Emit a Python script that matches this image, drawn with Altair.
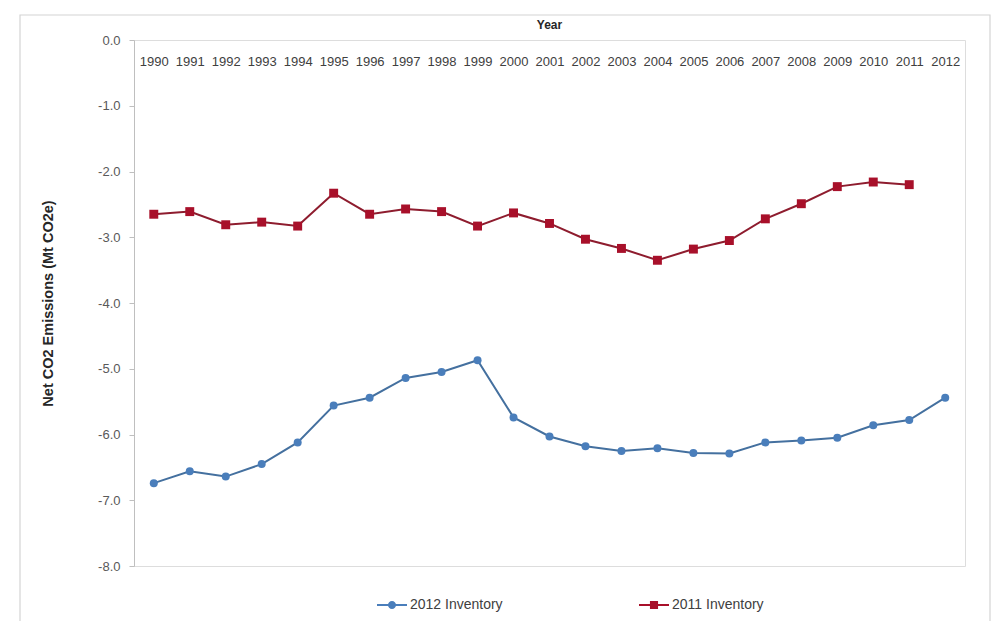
import altair as alt
import pandas as pd

years = [str(y) for y in range(1990, 2013)]
inv_2012 = [-6.74, -6.56, -6.64, -6.45, -6.12, -5.56, -5.44, -5.14, -5.05, -4.87,
            -5.74, -6.03, -6.18, -6.25, -6.21, -6.28, -6.29, -6.12, -6.09, -6.05,
            -5.86, -5.78, -5.44]
inv_2011 = [-2.65, -2.61, -2.81, -2.77, -2.83, -2.33, -2.65, -2.57, -2.61, -2.83,
            -2.63, -2.79, -3.03, -3.17, -3.35, -3.18, -3.05, -2.72, -2.49, -2.23,
            -2.16, -2.20]
series_names = ["2012 Inventory", "2011 Inventory"]
y_ticks = [0, -1, -2, -3, -4, -5, -6, -7, -8]

marker_colors = ["#4A7EBB", "#A8102A"]
line_colors = ["#44709F", "#8E1C2E"]

rows = []
for yr, v in zip(years, inv_2012):
    rows.append({"Year": yr, "Value": v, "Series": series_names[0]})
for yr, v in zip(years, inv_2011):
    rows.append({"Year": yr, "Value": v, "Series": series_names[1]})
df = pd.DataFrame(rows)

FONT = "Liberation Sans"
PLOT_W, PLOT_H = 831, 526

x_enc = alt.X(
    "Year:O",
    scale=alt.Scale(type="point", domain=years, padding=0.55),
    axis=alt.Axis(
        orient="bottom", offset=-PLOT_H, title=None, labelAngle=0,
        ticks=False, tickSize=0, domain=False, labelPadding=15,
        labelFontSize=13, labelColor="#404040", labelFont=FONT,
        labelOverlap=False,
    ),
)
y_enc = alt.Y(
    "Value:Q",
    scale=alt.Scale(domain=[-8, 0], nice=False, zero=False),
    axis=alt.Axis(
        values=y_ticks, grid=False, tickSize=5, tickColor="#BFBFBF",
        domainColor="#BFBFBF", labelPadding=9, labelFontSize=13,
        labelColor="#595959", labelFont=FONT,
        labelExpr="replace(format(datum.value, '.1f'), '\u2212', '-')",
        title="Net CO2 Emissions (Mt CO2e)", titleFont=FONT,
        titleFontSize=14.5, titleFontWeight="bold", titleColor="#262626",
        titlePadding=42,
    ),
)

base = alt.Chart(df).encode(x=x_enc, y=y_enc)

blue = base.transform_filter(alt.datum.Series == series_names[0])
red = base.transform_filter(alt.datum.Series == series_names[1])

blue_line = blue.mark_line(strokeWidth=2, color=line_colors[0])
red_line = red.mark_line(strokeWidth=2, color=line_colors[1])
blue_pts = blue.mark_point(shape="circle", filled=True, size=64, opacity=1, color=marker_colors[0])
red_pts = red.mark_point(shape="square", filled=True, size=80, opacity=1, color=marker_colors[1])

legend_spec = alt.Legend(
    title=None, orient="none", legendX=243, legendY=550, direction="horizontal",
    symbolSize=900, symbolOpacity=1, symbolStrokeWidth=0, labelFontSize=14,
    labelFont=FONT, labelColor="#404040", columnPadding=136, labelOffset=3,
)
circle_path = "M-1,-0.06H1V0.06H-1Z M-0.27,0A0.27,0.27 0 1,1 0.27,0A0.27,0.27 0 1,1 -0.27,0Z"
square_path = "M-1,-0.06H1V0.06H-1Z M-0.27,-0.27H0.27V0.27H-0.27Z"

legend_layer = base.mark_point(filled=True, opacity=0).encode(
    fill=alt.Fill("Series:N", scale=alt.Scale(domain=series_names, range=marker_colors), legend=legend_spec),
    shape=alt.Shape("Series:N", scale=alt.Scale(domain=series_names, range=[circle_path, square_path]), legend=legend_spec),
)

frame = alt.Chart(alt.Data(values=[{}])).mark_rect(
    fill=None, stroke="#D4D4D4", strokeWidth=1.2, clip=False
).encode(
    x=alt.value(-114), x2=alt.value(856), y=alt.value(-25), y2=alt.value(587)
)

chart = alt.layer(frame, blue_line, red_line, blue_pts, red_pts, legend_layer).properties(
    width=PLOT_W, height=PLOT_H,
    autosize=alt.AutoSizeParams(type="none"),
    padding={"left": 126, "top": 32, "right": 26, "bottom": 55},
    title=alt.TitleParams(
        "Year", anchor="middle", frame="group", fontSize=12, fontWeight="bold",
        font=FONT, color="#262626", offset=-18,
    ),
).configure_view(
    stroke="#C8C8C8", strokeWidth=1
).configure(background="white")

chart.save("out.html", embed_options={"renderer": "svg", "actions": False})
